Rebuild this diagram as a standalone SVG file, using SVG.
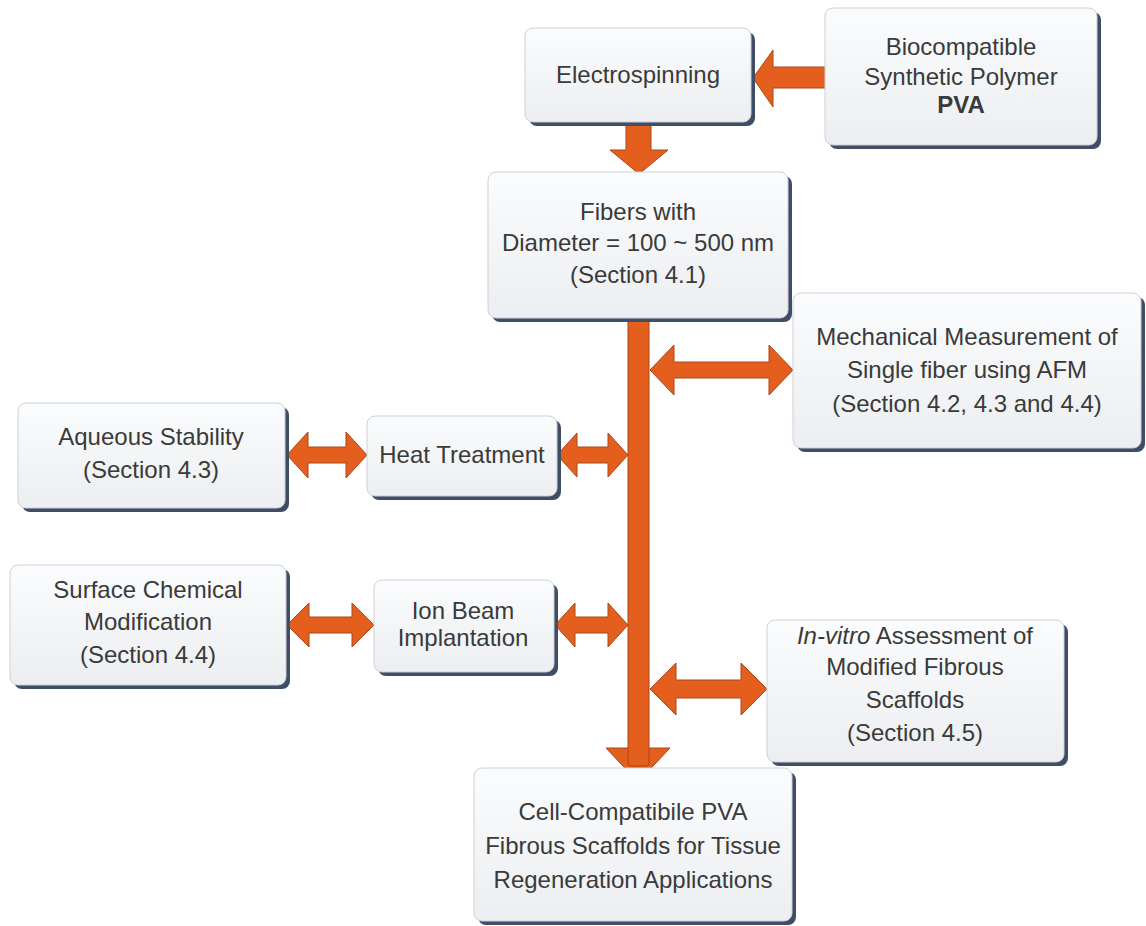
<svg xmlns="http://www.w3.org/2000/svg" width="1146" height="926" viewBox="0 0 1146 926">
<defs>
<linearGradient id="boxg" x1="0" y1="0" x2="0" y2="1">
<stop offset="0" stop-color="#fbfcfd"/>
<stop offset="1" stop-color="#eceef1"/>
</linearGradient>
<style>
.sh{fill:#3f4d66;}
.bx{fill:url(#boxg);stroke:#cdd0d6;stroke-width:1;}
.t{font-family:"Liberation Sans",Arial,sans-serif;font-size:24px;fill:#3a3a3a;text-anchor:middle;}
.ar{fill:#e45f1e;stroke:#a9461a;stroke-width:1;stroke-linejoin:miter;}
</style>
</defs>
<rect width="1146" height="926" fill="#ffffff"/>
<g id="connectors">
<polygon class="ar" points="626,121 651,121 651,150 668,150 639,174 610,150 626,150"/>
<polygon class="ar" points="826,67 773,67 773,50 753,78 773,107 773,88 826,88"/>
<polygon class="ar" points="606,748 670,748 638,782"/>
<rect class="ar" x="628" y="314" width="21" height="452" rx="3"/>
<polygon class="ar" points="650,370 674,345 674,362 769,362 769,345 793,370 769,395 769,378 674,378 674,395"/>
<polygon class="ar" points="287,455 308,432 308,447 346,447 346,432 367,455 346,478 346,463 308,463 308,478"/>
<polygon class="ar" points="557,455 577,433 577,447 608,447 608,433 628,455 608,477 608,463 577,463 577,477"/>
<polygon class="ar" points="287,625 309,603 309,617 352,617 352,603 374,625 352,647 352,633 309,633 309,647"/>
<polygon class="ar" points="555,625 575,603 575,617 608,617 608,603 628,625 608,647 608,633 575,633 575,647"/>
<polygon class="ar" points="650,689 676,663 676,680 741,680 741,663 767,689 741,715 741,698 676,698 676,715"/>
</g>
<g id="electrospinning">
<rect class="sh" x="529" y="32" width="226" height="94" rx="8"/>
<rect class="bx" x="525" y="28" width="226" height="94" rx="8"/>
<text class="t" x="638" y="83">Electrospinning</text>
</g>
<g id="polymer">
<rect class="sh" x="829" y="12" width="272" height="137" rx="8"/>
<rect class="bx" x="825" y="8" width="272" height="137" rx="8"/>
<text class="t" x="961" y="55">Biocompatible</text>
<text class="t" x="961" y="85">Synthetic Polymer</text>
<text class="t" x="961" y="113" font-weight="bold">PVA</text>
</g>
<g id="fibers">
<rect class="sh" x="492" y="176" width="300" height="146" rx="8"/>
<rect class="bx" x="488" y="172" width="300" height="146" rx="8"/>
<text class="t" x="638" y="220">Fibers with</text>
<text class="t" x="638" y="251">Diameter = 100 ~ 500 nm</text>
<text class="t" x="638" y="283">(Section 4.1)</text>
</g>
<g id="mechanical">
<rect class="sh" x="797" y="297" width="348" height="155" rx="8"/>
<rect class="bx" x="793" y="293" width="348" height="155" rx="8"/>
<text class="t" x="967" y="345">Mechanical Measurement of</text>
<text class="t" x="967" y="378">Single fiber using AFM</text>
<text class="t" x="967" y="412">(Section 4.2, 4.3 and 4.4)</text>
</g>
<g id="aqueous">
<rect class="sh" x="22" y="407" width="267" height="105" rx="8"/>
<rect class="bx" x="18" y="403" width="267" height="105" rx="8"/>
<text class="t" x="151" y="445">Aqueous Stability</text>
<text class="t" x="151" y="478">(Section 4.3)</text>
</g>
<g id="heat">
<rect class="sh" x="371" y="420" width="190" height="80" rx="8"/>
<rect class="bx" x="367" y="416" width="190" height="80" rx="8"/>
<text class="t" x="462" y="463">Heat Treatment</text>
</g>
<g id="surface">
<rect class="sh" x="14" y="569" width="276" height="120" rx="8"/>
<rect class="bx" x="10" y="565" width="276" height="120" rx="8"/>
<text class="t" x="148" y="598">Surface Chemical</text>
<text class="t" x="148" y="630">Modification</text>
<text class="t" x="148" y="663">(Section 4.4)</text>
</g>
<g id="ionbeam">
<rect class="sh" x="378" y="584" width="180" height="92" rx="8"/>
<rect class="bx" x="374" y="580" width="180" height="92" rx="8"/>
<text class="t" x="463" y="619">Ion Beam</text>
<text class="t" x="463" y="646">Implantation</text>
</g>
<g id="invitro">
<rect class="sh" x="771" y="624" width="297" height="142" rx="8"/>
<rect class="bx" x="767" y="620" width="297" height="142" rx="8"/>
<text class="t" x="915" y="644"><tspan font-style="italic">In-vitro</tspan> Assessment of</text>
<text class="t" x="915" y="675">Modified Fibrous</text>
<text class="t" x="915" y="708">Scaffolds</text>
<text class="t" x="915" y="741">(Section 4.5)</text>
</g>
<g id="scaffolds">
<rect class="sh" x="478" y="772" width="318" height="153" rx="8"/>
<rect class="bx" x="474" y="768" width="318" height="153" rx="8"/>
<text class="t" x="633" y="820">Cell-Compatibile PVA</text>
<text class="t" x="633" y="854">Fibrous Scaffolds for Tissue</text>
<text class="t" x="633" y="888">Regeneration Applications</text>
</g>
</svg>
